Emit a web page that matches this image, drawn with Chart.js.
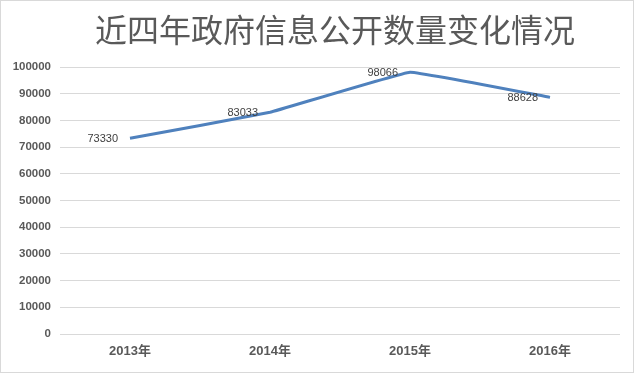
<!DOCTYPE html>
<html><head><meta charset="utf-8">
<script src="https://cdn.jsdelivr.net/npm/chart.js@4"></script>
<style>html,body{margin:0;padding:0;background:#fff;}#wrap{width:636px;height:374px;}</style>
</head><body><div id="wrap"><canvas id="c" width="636" height="374"></canvas></div>
<script>
const titleText = '近四年政府信息公开数量变化情况';
const categories = ['2013年', '2014年', '2015年', '2016年'];
const values = [73330, 83033, 98066, 88628];
const yMin = 0, yMax = 100000, yStep = 10000;

const decor = {
  id: 'decor',
  afterDraw(chart) {
    const ctx = chart.ctx;
    ctx.save();
    ctx.strokeStyle = '#d9d9d9';
    ctx.lineWidth = 1;
    ctx.strokeRect(0.5, 0.5, 633, 372);
    ctx.fillStyle = '#595959';
    ctx.font = '32px "Noto Sans CJK SC"';
    ctx.textAlign = 'center';
    ctx.textBaseline = 'middle';
    ctx.fillText(titleText, 335, 30);
    const meta = chart.getDatasetMeta(0);
    ctx.font = '11px "Liberation Sans", Arial';
    ctx.fillStyle = '#404040';
    ctx.textAlign = 'right';
    meta.data.forEach((pt, i) => {
      ctx.fillText(String(values[i]), pt.x - 12, pt.y + 1);
    });
    ctx.restore();
  }
};

new Chart(document.getElementById('c'), {
  type: 'line',
  data: {
    labels: categories,
    datasets: [{
      data: values,
      borderColor: '#4f81bd',
      borderWidth: 3,
      pointRadius: 0,
      tension: 0.06,
      fill: false
    }]
  },
  options: {
    responsive: false,
    animation: false,
    layout: { padding: { top: 67, right: 16, left: 0, bottom: 0 } },
    plugins: { legend: { display: false }, title: { display: false }, tooltip: { enabled: false } },
    scales: {
      x: {
        offset: true,
        grid: { display: false, drawTicks: false },
        border: { display: false },
        ticks: { color: '#595959', font: { family: '"Liberation Sans", "Noto Sans CJK SC"', size: 13, weight: 'bold' }, padding: 10 },
        afterFit(s) { s.height = 40; }
      },
      y: {
        min: yMin, max: yMax,
        grid: { color: '#d9d9d9', lineWidth: 1, drawTicks: false },
        border: { display: false },
        ticks: { stepSize: yStep, color: '#595959', font: { family: '"Liberation Sans", Arial', size: 11.5, weight: 'bold' }, padding: 9,
          callback: v => String(v) },
        afterFit(s) { s.width = 60; }
      }
    }
  },
  plugins: [decor]
});
</script>
</body></html>
